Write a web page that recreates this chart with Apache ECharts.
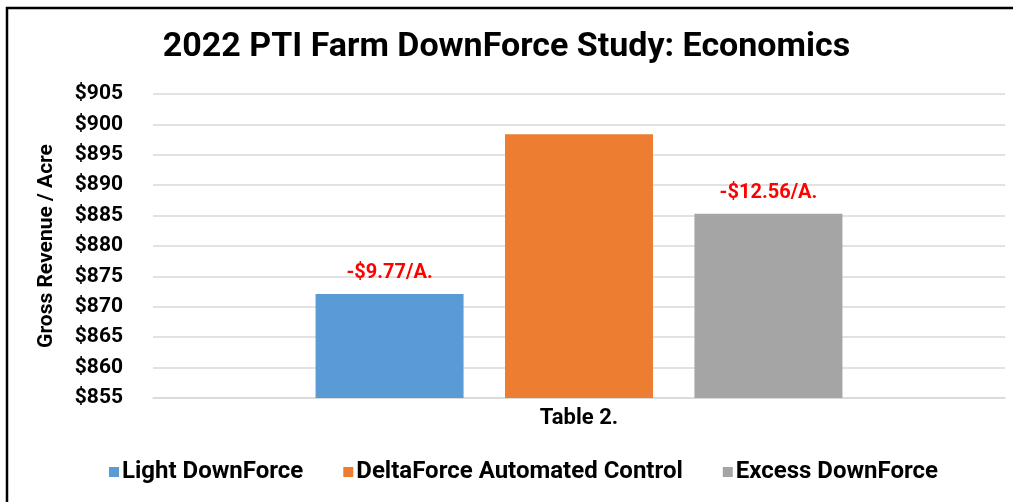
<!DOCTYPE html>
<html>
<head>
<meta charset="utf-8">
<script src="https://cdn.jsdelivr.net/npm/echarts@6/dist/echarts.min.js"></script>
<style>
html,body{margin:0;padding:0;background:#fff;}
#chart{width:1013px;height:502px;}
</style>
</head>
<body>
<div id="chart"></div>
<script>
const categories = ['Table 2.'];
const seriesNames = ['Light DownForce', 'DeltaForce Automated Control', 'Excess DownForce'];
const lightValues = [872.1];
const deltaValues = [898.4];
const excessValues = [885.3];
const barLabels = ['-$9.77/A.', '', '-$12.56/A.'];
const colors = ['#5b9bd5', '#ed7d31', '#a5a5a5'];
const yTicks = [855, 860, 865, 870, 875, 880, 885, 890, 895, 900, 905];

const font = 'Roboto, "Liberation Sans", sans-serif';
const chart = echarts.init(document.getElementById('chart'));
const valueSets = [lightValues, deltaValues, excessValues];

const series = seriesNames.map((name, i) => ({
  name: name,
  type: 'bar',
  data: valueSets[i],
  barWidth: 148,
  barGap: '28%',
  itemStyle: { color: colors[i] },
  label: {
    show: barLabels[i] !== '',
    position: 'top',
    distance: 11,
    formatter: () => barLabels[i],
    color: '#ff0000',
    fontFamily: font,
    fontWeight: 'bold',
    fontSize: 20
  }
}));

chart.setOption({
  animation: false,
  backgroundColor: '#fff',
  graphic: [{
    type: 'rect',
    shape: { x: 7, y: 8, width: 1030, height: 520 },
    style: { fill: 'none', stroke: '#000', lineWidth: 2.5 },
    z: 100
  }],
  title: {
    text: '2022 PTI Farm DownForce Study: Economics',
    left: 'center',
    top: 25,
    textStyle: { fontFamily: font, fontWeight: 'bold', fontSize: 34, color: '#000' }
  },
  legend: {
    bottom: 13,
    left: 104,
    itemWidth: 10,
    itemHeight: 10,
    itemGap: 40,
    icon: 'rect',
    data: seriesNames,
    textStyle: { fontFamily: font, fontWeight: 'bold', fontSize: 24, color: '#000', padding: [0, 0, 0, -2] }
  },
  grid: { left: 153, right: 8, top: 94, bottom: 104, containLabel: false },
  xAxis: {
    type: 'category',
    data: categories,
    axisLine: { show: true, lineStyle: { color: '#d9d9d9', width: 1.5 } },
    axisTick: { show: false },
    axisLabel: { fontFamily: font, fontWeight: 'bold', fontSize: 22, color: '#000', margin: 9 }
  },
  yAxis: {
    type: 'value',
    min: yTicks[0],
    max: yTicks[yTicks.length - 1],
    interval: 5,
    name: 'Gross Revenue / Acre',
    nameLocation: 'middle',
    nameGap: 96,
    nameRotate: 90,
    nameTextStyle: { fontFamily: font, fontWeight: 'bold', fontSize: 21, color: '#000' },
    axisLine: { show: false },
    axisTick: { show: false },
    splitLine: { lineStyle: { color: '#d9d9d9', width: 1.5 } },
    axisLabel: {
      fontFamily: font, fontWeight: 'bold', fontSize: 21, color: '#000', margin: 30,
      formatter: v => '$' + v
    }
  },
  series: series
});
</script>
</body>
</html>
